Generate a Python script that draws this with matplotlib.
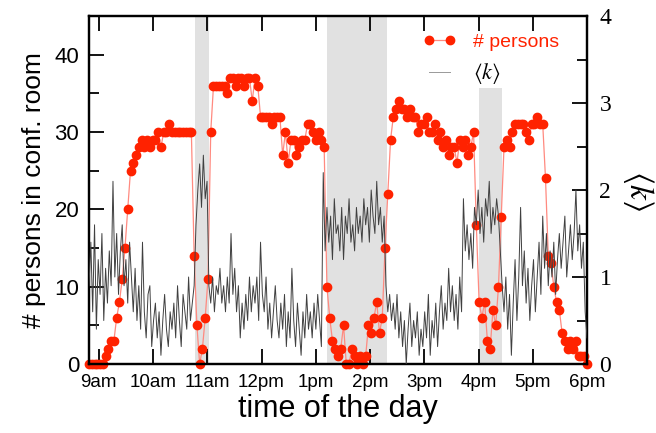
import numpy as np
import matplotlib
matplotlib.use('Agg')
import matplotlib.pyplot as plt

plt.rcParams['font.family'] = ['Liberation Sans', 'DejaVu Sans']
plt.rcParams['mathtext.fontset'] = 'stix'

# number of persons in the room, regular readings from 8:49 to 18:00
persons = [0, 0, 0, 0, 0, 0, 1, 2, 3, 3,
           6, 8, 11, 15, 20, 25, 26, 27, 28, 29,
           28, 29, 28, 29, 29, 30, 28, 30, 30, 31,
           30, 30, 30, 30, 30, 30, 30, 30, 14, 5,
           0, 2, 6, 11, 30, 36, 36, 36, 36, 36,
           35, 37, 37, 36, 37, 37, 36, 37, 37, 34,
           37, 36, 32, 32, 32, 32, 31, 32, 32, 32,
           27, 30, 26, 29, 29, 27, 28, 29, 29, 31,
           31, 30, 29, 30, 29, 28, 10, 6, 3, 2,
           1, 2, 5, 0, 0, 2, 1, 0, 1, 0,
           1, 5, 4, 6, 8, 4, 6, 15, 22, 29,
           32, 33, 34, 33, 33, 32, 33, 32, 32, 30,
           31, 31, 32, 30, 30, 31, 29, 30, 28, 29,
           27, 28, 28, 26, 29, 28, 29, 27, 28, 30,
           18, 8, 6, 8, 3, 2, 7, 5, 10, 19,
           28, 29, 28, 30, 31, 31, 31, 31, 30, 29,
           31, 31, 32, 31, 31, 24, 14, 13, 10, 8,
           7, 4, 3, 2, 3, 2, 3, 1, 1, 1,
           0]

# average degree <k>, regular readings over the same period
avg_k = [0.9, 1.4, 0.6, 1.6, 0.4, 1.2, 0.8, 1.5, 0.5, 1.1, 0.7, 1.3, 0.9, 2.1, 1.0,
         1.5, 0.8, 1.3, 1.6, 0.9, 1.2, 0.7, 1.4, 1.0, 0.6, 1.1, 0.5, 0.9, 0.4, 1.4,
         0.6, 0.3, 0.8, 0.9, 0.2, 0.5, 0.7, 0.3, 0.6, 0.1, 0.5, 0.8, 0.4, 0.2, 0.6,
         0.4, 0.7, 0.3, 0.9, 0.5, 0.2, 0.8, 0.6, 0.4, 1.0, 0.5, 0.7, 0.9, 1.6, 2.0,
         2.3, 1.8, 2.4, 1.9, 2.1, 0.9, 0.7, 1.0, 0.6, 0.9, 0.8, 1.1, 0.7, 0.9, 0.6,
         1.0, 0.7, 1.5, 0.8, 1.1, 0.6, 0.9, 0.3, 0.7, 0.4, 0.8, 0.5, 1.0, 0.6, 0.9,
         0.7, 1.0, 0.5, 1.4, 0.8, 0.6, 1.0, 0.4, 0.7, 0.3, 0.6, 0.9, 0.5, 0.3, 0.7,
         0.4, 0.8, 0.2, 0.6, 0.3, 1.1, 0.5, 0.2, 0.7, 0.4, 0.1, 0.6, 0.3, 0.8, 0.4,
         0.6, 0.3, 0.7, 0.4, 0.8, 0.5, 0.2, 2.2, 1.3, 1.8, 1.4, 1.7, 1.2, 1.9, 1.5,
         1.6, 1.3, 1.8, 1.2, 1.7, 1.5, 1.9, 1.4, 1.6, 1.3, 1.8, 1.5, 1.7, 1.4, 1.9,
         1.6, 1.8, 1.4, 2.0, 1.7, 1.5, 2.1, 1.6, 1.8, 1.4, 1.7, 0.9, 0.6, 0.8, 0.5,
         0.7, 0.4, 0.8, 0.3, 0.6, 0.2, 0.5, 0.0, 0.4, 0.7, 0.2, 0.5, 0.3, 0.6, 0.1,
         0.4, 0.2, 0.6, 0.3, 0.8, 0.1, 0.5, 0.3, 0.7, 0.2, 0.6, 0.9, 0.4, 0.7, 0.5,
         1.1, 0.6, 0.9, 0.5, 0.8, 0.4, 1.0, 0.6, 1.9, 1.3, 1.6, 1.2, 1.5, 1.1, 1.8,
         1.6, 2.0, 1.5, 1.8, 1.4, 1.9, 1.7, 2.1, 1.5, 1.8, 1.6, 1.9, 1.7, 1.3, 0.9,
         0.6, 1.0, 0.4, 0.8, 0.1, 0.7, 1.2, 0.5, 1.0, 1.8, 0.9, 1.3, 0.7, 1.1, 0.5,
         0.9, 1.2, 0.6, 1.0, 1.4, 0.8, 1.7, 1.1, 1.5, 0.9, 1.3, 1.0, 1.4, 0.8, 1.2,
         1.5, 1.1, 1.4, 1.7, 1.0, 1.3, 1.6, 1.2, 1.5, 2.0, 1.3, 1.6, 1.1, 1.4, 0.6,
         0.3]

hours = [9, 10, 11, 12, 13, 14, 15, 16, 17, 18]
hour_labels = ['9am', '10am', '11am', '12pm', '1pm', '2pm', '3pm', '4pm', '5pm', '6pm']

# shaded time windows (hours) and their height in # persons
band_start = [10.77, 13.21, 16.00]
band_end = [11.03, 14.31, 16.44]
band_top = [45, 45, 35.7]

t_start, t_end = 8.82, 18.0
t_persons = np.linspace(t_start, t_end, len(persons))
t_k = np.linspace(t_start, t_end, len(avg_k))

red = '#ff2200'

fig = plt.figure(figsize=(6.56, 4.33), dpi=100)
ax = fig.add_axes([89/656, 69/433, 498/656, 348/433])
ax2 = ax.twinx()

for s, e, top in zip(band_start, band_end, band_top):
    ax.bar(s, top, width=e - s, align='edge', color='#e1e1e1', lw=0, zorder=0)

l1, = ax.plot(t_persons, persons, '-', color='#ff8a80', lw=0.9,
              marker='o', ms=6, mfc=red, mec=red, zorder=2, clip_on=False)
l2, = ax2.plot(t_k, avg_k, color='#404040', lw=0.7, zorder=3)

ax.set_xlim(t_start, t_end)
ax.set_ylim(0, 45)
ax2.set_ylim(0, 4)

ax.set_xticks(hours)
ax.set_xticklabels(hour_labels)
ax.set_yticks([0, 10, 20, 30, 40])
ax.set_yticks([5, 15, 25, 35, 45], minor=True)
ax2.set_yticks([0, 1, 2, 3, 4])
ax2.set_yticks([0.5, 1.5, 2.5, 3.5], minor=True)

ax.tick_params(axis='x', which='major', direction='in', top=True, length=11, width=1.3,
               labelsize=13.5, pad=7)
ax.tick_params(axis='y', which='major', direction='in', length=11, width=1.3,
               labelsize=16, pad=7)
ax.tick_params(axis='y', which='minor', direction='in', length=7, width=1.3)
ax2.tick_params(axis='y', which='major', direction='in', length=11, width=1.3,
                labelsize=17, pad=9)
ax2.tick_params(axis='y', which='minor', direction='in', length=7, width=1.3)
for lab in ax2.get_yticklabels():
    lab.set_family('Liberation Serif')

for a in (ax, ax2):
    for sp in a.spines.values():
        sp.set_linewidth(1.6)

ax.set_xlabel('time of the day', fontsize=22, labelpad=2)
ax.set_ylabel('# persons in conf. room', fontsize=19, labelpad=6)
ax2.set_ylabel(r'$\langle k\rangle$', fontsize=24, rotation=-90, labelpad=32)

leg = ax2.legend([l1, l2], ['# persons', r'$\langle k\rangle$'], loc='upper left',
                 bbox_to_anchor=(0.635, 1.0), frameon=False, fontsize=14,
                 numpoints=2, handlelength=1.7, handletextpad=0.9, labelspacing=0.5)
leg.get_texts()[0].set_color(red)
leg.get_texts()[1].set_fontsize(16)
leg.legend_handles[1].set_color('#999999')

fig.savefig('out.png', dpi=100)
